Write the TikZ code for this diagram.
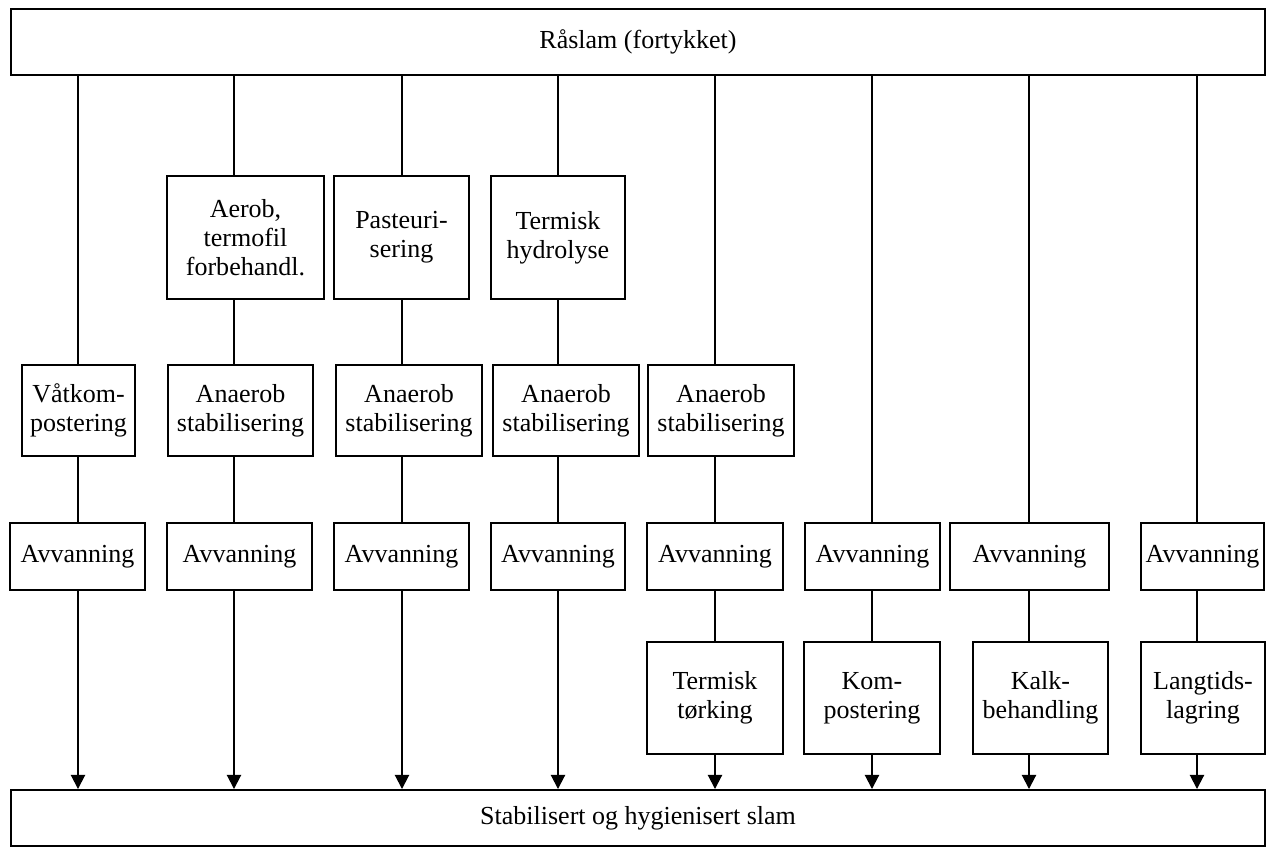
\documentclass[tikz,border=0pt]{standalone}
\usepackage{fontspec}
\setmainfont{Liberation Serif}
\usetikzlibrary{arrows.meta, positioning}

\tikzset{
  stage/.style={draw, line width=1.1pt, align=center, inner sep=0pt, font=\fontsize{14.8}{16.5}\selectfont},
  link/.style={line width=1.1pt},
  flow/.style={line width=1.1pt, -{Triangle[length=8pt, width=8pt]}}
}

\begin{document}
\begin{tikzpicture}
  \useasboundingbox (0,0) rectangle (25.36,-17.1);

  % Inn og ut
  \node[stage, minimum width=25.08cm, minimum height=1.32cm] (raslam) at (12.76,-0.84) {Råslam (fortykket)};
  \node[stage, minimum width=25.08cm, minimum height=1.12cm] (slam) at (12.76,-16.36) {Stabilisert og hygienisert slam};

  % Kolonner
  \coordinate (c1) at (1.56,0);
  \coordinate (c2) at (4.68,0);
  \coordinate (c3) at (8.04,0);
  \coordinate (c4) at (11.16,0);
  \coordinate (c5) at (14.30,0);
  \coordinate (c6) at (17.44,0);
  \coordinate (c7) at (20.58,0);
  \coordinate (c8) at (23.94,0);

  % Forbehandling
  \node[stage, minimum width=3.14cm, minimum height=2.46cm] (aerob) at (4.91,-4.75) {Aerob,\\termofil\\forbehandl.};
  \node[stage, minimum width=2.70cm, minimum height=2.46cm] (pasteur) at (8.03,-4.75) {Pasteuri-\\sering};
  \node[stage, minimum width=2.68cm, minimum height=2.46cm] (hydro) at (11.16,-4.75) {Termisk\\hydrolyse};

  % Stabilisering
  \node[stage, minimum width=2.26cm, minimum height=1.82cm] (vat) at (1.57,-8.21) {Våtkom-\\postering};
  \node[stage, minimum width=2.90cm, minimum height=1.82cm] (ana2) at (4.81,-8.21) {Anaerob\\stabilisering};
  \node[stage, minimum width=2.92cm, minimum height=1.82cm] (ana3) at (8.18,-8.21) {Anaerob\\stabilisering};
  \node[stage, minimum width=2.92cm, minimum height=1.82cm] (ana4) at (11.32,-8.21) {Anaerob\\stabilisering};
  \node[stage, minimum width=2.92cm, minimum height=1.82cm] (ana5) at (14.42,-8.21) {Anaerob\\stabilisering};

  % Avvanning
  \node[stage, minimum width=2.70cm, minimum height=1.34cm] (avv1) at (1.55,-11.13) {Avvanning};
  \node[stage, minimum width=2.90cm, minimum height=1.34cm] (avv2) at (4.79,-11.13) {Avvanning};
  \node[stage, minimum width=2.70cm, minimum height=1.34cm] (avv3) at (8.03,-11.13) {Avvanning};
  \node[stage, minimum width=2.68cm, minimum height=1.34cm] (avv4) at (11.16,-11.13) {Avvanning};
  \node[stage, minimum width=2.72cm, minimum height=1.34cm] (avv5) at (14.30,-11.13) {Avvanning};
  \node[stage, minimum width=2.70cm, minimum height=1.34cm] (avv6) at (17.45,-11.13) {Avvanning};
  \node[stage, minimum width=3.18cm, minimum height=1.34cm] (avv7) at (20.59,-11.13) {Avvanning};
  \node[stage, minimum width=2.46cm, minimum height=1.34cm] (avv8) at (24.05,-11.13) {Avvanning};

  % Etterbehandling
  \node[stage, minimum width=2.72cm, minimum height=2.24cm] (tork) at (14.30,-13.96) {Termisk\\tørking};
  \node[stage, minimum width=2.72cm, minimum height=2.24cm] (kompost) at (17.44,-13.96) {Kom-\\postering};
  \node[stage, minimum width=2.70cm, minimum height=2.24cm] (kalk) at (20.81,-13.96) {Kalk-\\behandling};
  \node[stage, minimum width=2.48cm, minimum height=2.24cm] (lagring) at (24.06,-13.96) {Langtids-\\lagring};

  % Linjer ned fra råslam
  \draw[link] (c1 |- raslam.south) -- (c1 |- vat.north);
  \draw[link] (c2 |- raslam.south) -- (c2 |- aerob.north);
  \draw[link] (c3 |- raslam.south) -- (c3 |- pasteur.north);
  \draw[link] (c4 |- raslam.south) -- (c4 |- hydro.north);
  \draw[link] (c5 |- raslam.south) -- (c5 |- ana5.north);
  \draw[link] (c6 |- raslam.south) -- (c6 |- avv6.north);
  \draw[link] (c7 |- raslam.south) -- (c7 |- avv7.north);
  \draw[link] (c8 |- raslam.south) -- (c8 |- avv8.north);

  % Mellom trinnene
  \draw[link] (c2 |- aerob.south) -- (c2 |- ana2.north);
  \draw[link] (c3 |- pasteur.south) -- (c3 |- ana3.north);
  \draw[link] (c4 |- hydro.south) -- (c4 |- ana4.north);
  \draw[link] (c1 |- vat.south) -- (c1 |- avv1.north);
  \draw[link] (c2 |- ana2.south) -- (c2 |- avv2.north);
  \draw[link] (c3 |- ana3.south) -- (c3 |- avv3.north);
  \draw[link] (c4 |- ana4.south) -- (c4 |- avv4.north);
  \draw[link] (c5 |- ana5.south) -- (c5 |- avv5.north);
  \draw[link] (c5 |- avv5.south) -- (c5 |- tork.north);
  \draw[link] (c6 |- avv6.south) -- (c6 |- kompost.north);
  \draw[link] (c7 |- avv7.south) -- (c7 |- kalk.north);
  \draw[link] (c8 |- avv8.south) -- (c8 |- lagring.north);

  % Piler til slam
  \foreach \col/\last in {c1/avv1, c2/avv2, c3/avv3, c4/avv4, c5/tork, c6/kompost, c7/kalk, c8/lagring}
    \draw[flow] (\col |- \last.south) -- (\col |- slam.north);
\end{tikzpicture}
\end{document}
